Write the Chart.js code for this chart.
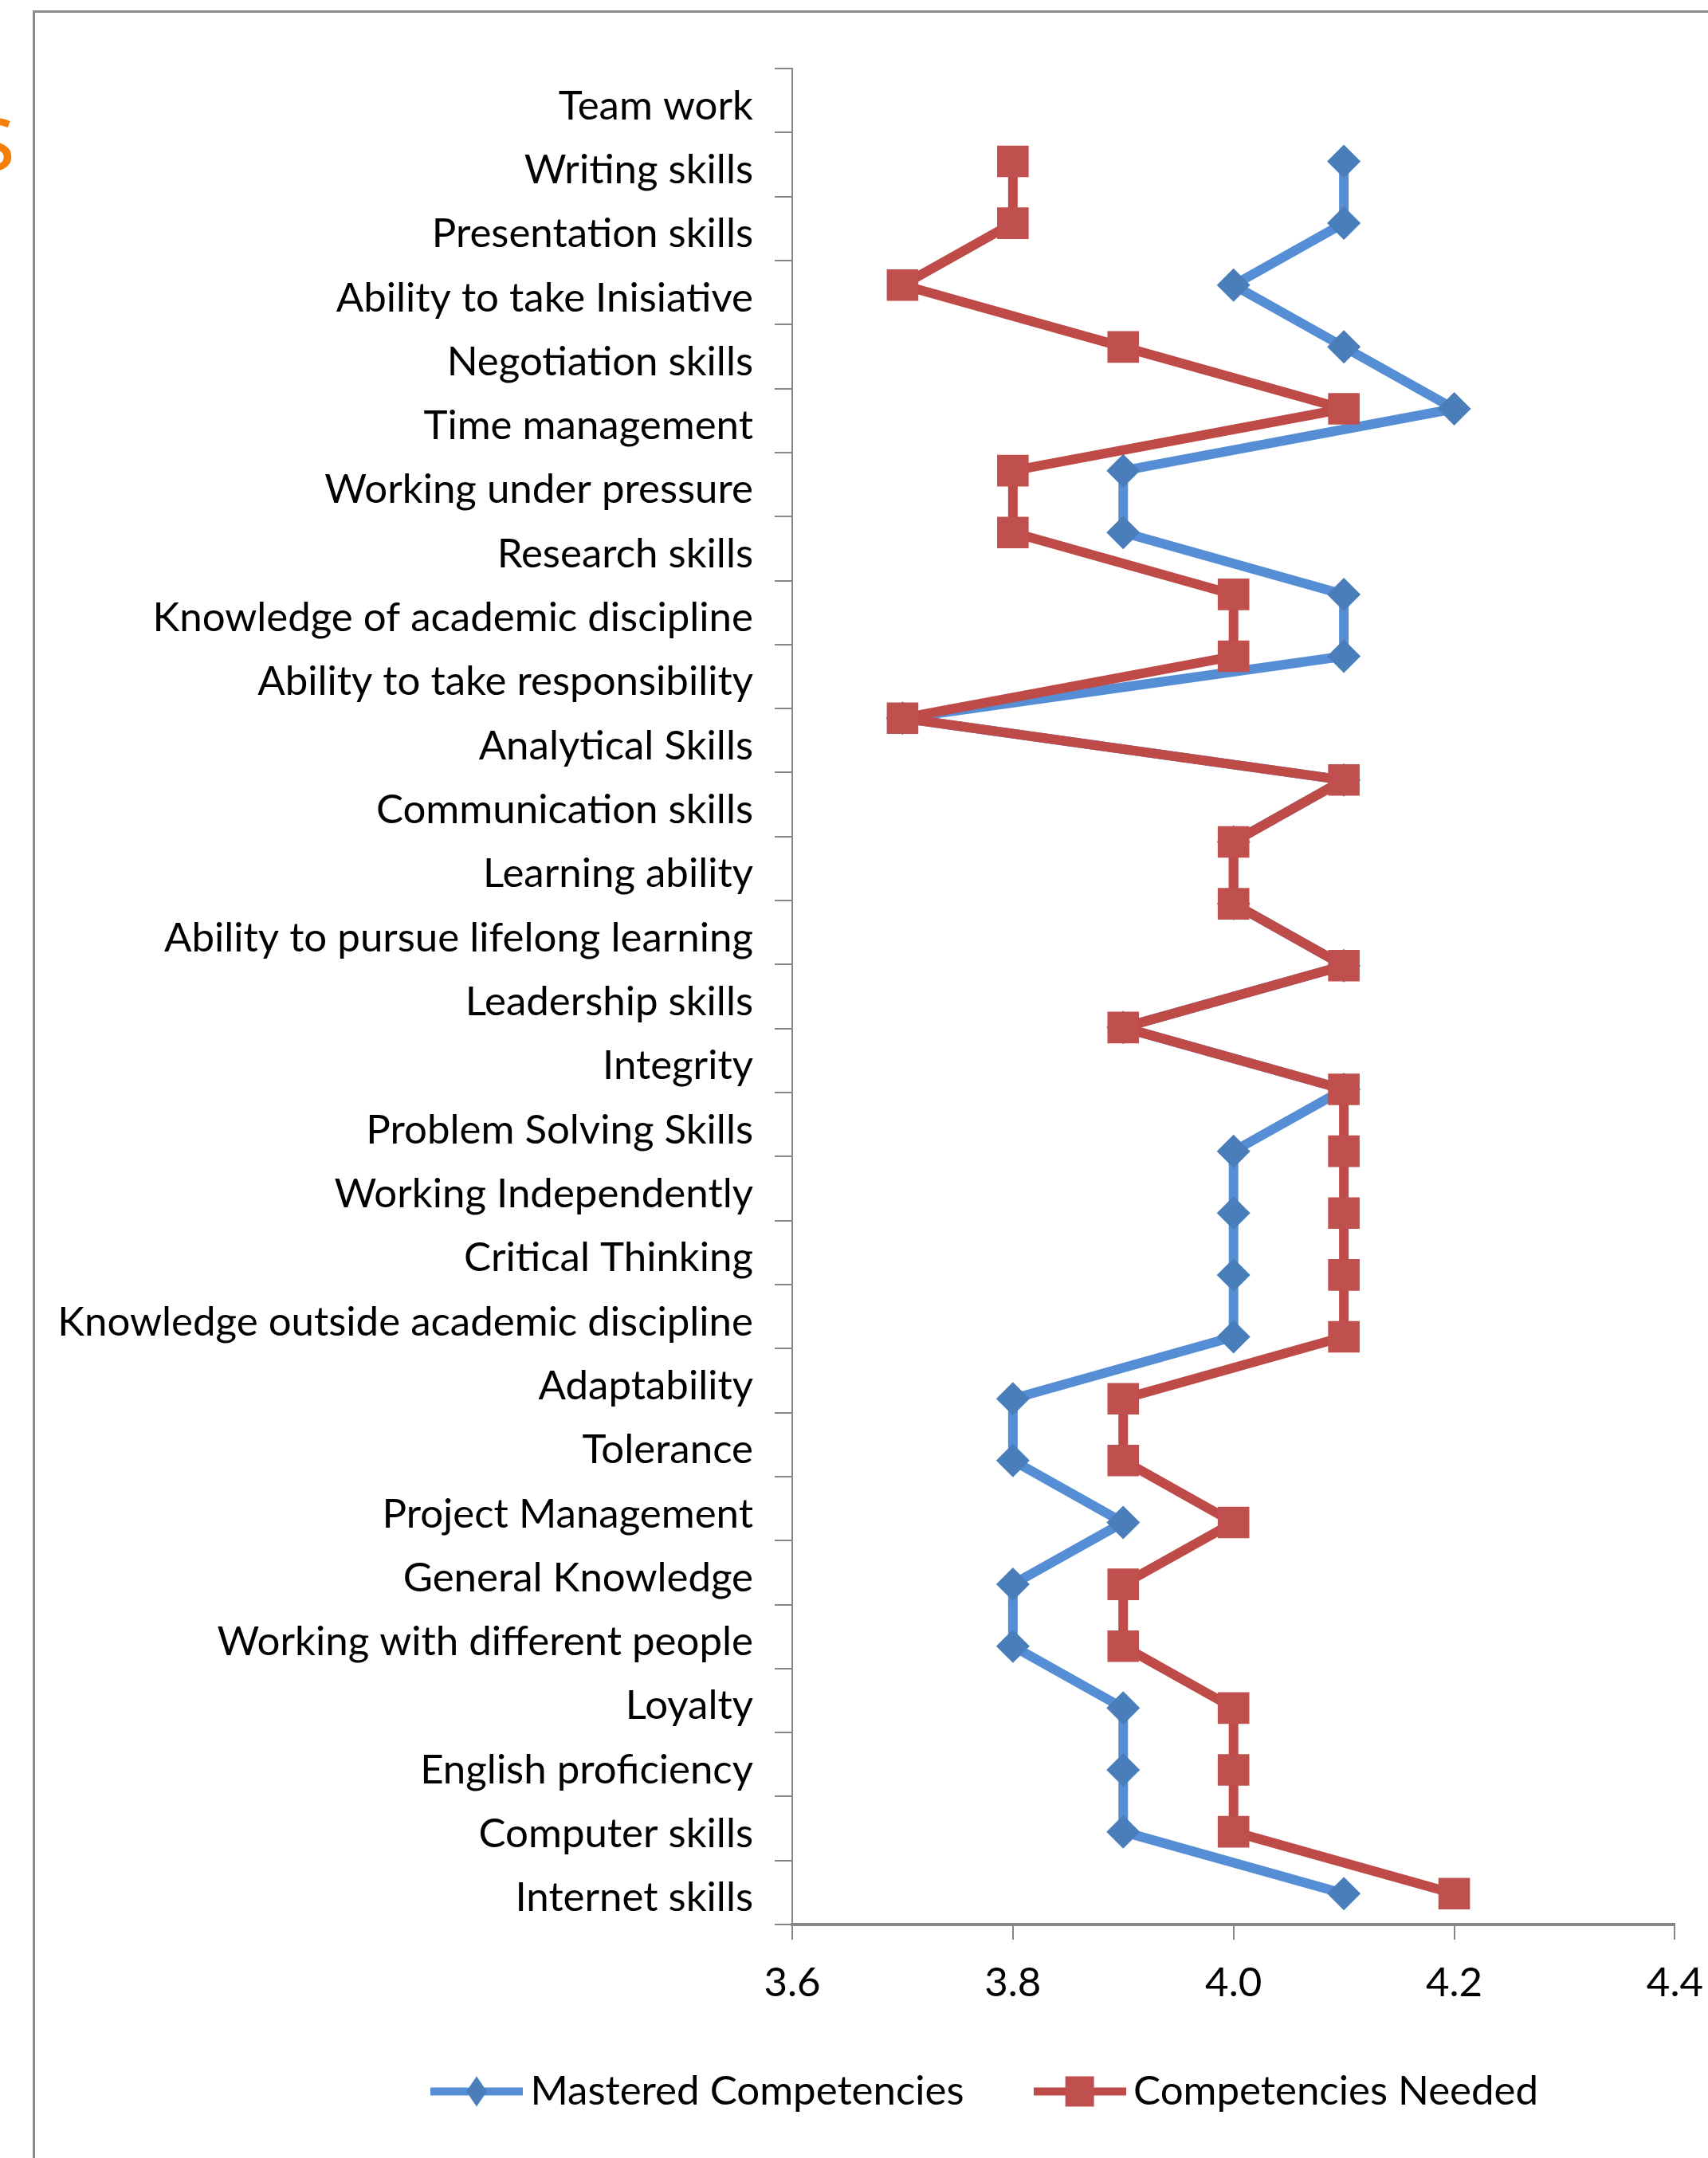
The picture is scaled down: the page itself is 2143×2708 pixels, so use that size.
<!DOCTYPE html>
<html>
<head>
<meta charset="utf-8">
<script src="https://cdn.jsdelivr.net/npm/chart.js@4.4.1/dist/chart.umd.min.js"></script>
<style>
  body { margin: 0; background: #fff; }
  #wrap { position: relative; width: 2143px; height: 2708px; overflow: hidden; }
  #frame { position: absolute; left: 41px; top: 13px; width: 3000px; height: 3000px;
           border-left: 3px solid #8c8c8c; border-top: 3px solid #8c8c8c; }
  #cut { position: absolute; left: -38px; top: 107px; font: 121px/1 "Open Sans"; color: #f47f06; }
  canvas { position: absolute; left: 0; top: 0; }
</style>
</head>
<body>
<div id="wrap">
  <div id="frame"></div>
  <div id="cut">s</div>
  <canvas id="skillsChart" width="2143" height="2708"></canvas>
</div>
<script>
const skills = [
  "Team work", "Writing skills", "Presentation skills", "Ability to take Inisiative",
  "Negotiation skills", "Time management", "Working under pressure", "Research skills",
  "Knowledge of academic discipline", "Ability to take responsibility", "Analytical Skills",
  "Communication skills", "Learning ability", "Ability to pursue lifelong learning",
  "Leadership skills", "Integrity", "Problem Solving Skills", "Working Independently",
  "Critical Thinking", "Knowledge outside academic discipline", "Adaptability", "Tolerance",
  "Project Management", "General Knowledge", "Working with different people", "Loyalty",
  "English proficiency", "Computer skills", "Internet skills"
];

const masteredScores = [4.1, 4.1, 4.0, 4.1, 4.2, 3.9, 3.9, 4.1, 4.1, 3.7, 4.1, 4.0, 4.0, 4.1, 3.9,
  4.1, 4.0, 4.0, 4.0, 4.0, 3.8, 3.8, 3.9, 3.8, 3.8, 3.9, 3.9, 3.9, 4.1];
const neededScores = [3.8, 3.8, 3.7, 3.9, 4.1, 3.8, 3.8, 4.0, 4.0, 3.7, 4.1, 4.0, 4.0, 4.1, 3.9,
  4.1, 4.1, 4.1, 4.1, 4.1, 3.9, 3.9, 4.0, 3.9, 3.9, 4.0, 4.0, 4.0, 4.2];

const xTicks = [3.6, 3.8, 4.0, 4.2, 4.4];
const seriesNames = ["Mastered Competencies", "Competencies Needed"];

const BLUE_LINE = '#558ED5', BLUE_MARK = '#4A7EBB';
const RED_LINE = '#BE4B48', RED_MARK = '#C0504D';
const labelFont = { family: 'Lato', size: 51 };

// little line + marker picture for the legend
function legendIcon(lineColor, markColor, shape) {
  const c = document.createElement('canvas');
  c.width = 116;
  c.height = 40;
  const g = c.getContext('2d');
  g.strokeStyle = lineColor;
  g.lineWidth = 10;
  g.beginPath();
  g.moveTo(0, 20);
  g.lineTo(116, 20);
  g.stroke();
  g.fillStyle = markColor;
  if (shape === 'diamond') {
    g.beginPath();
    g.moveTo(58, 1);
    g.lineTo(71, 20);
    g.lineTo(58, 39);
    g.lineTo(45, 20);
    g.closePath();
    g.fill();
  } else {
    g.fillRect(40, 1, 36, 38);
  }
  return c;
}

const icons = [legendIcon(BLUE_LINE, BLUE_MARK, 'diamond'), legendIcon(RED_LINE, RED_MARK, 'square')];

// the legend sits off-centre below the plot in the original, put it there
const legendPlacer = {
  id: 'legendPlacer',
  afterLayout(chart) {
    const lg = chart.legend;
    const w = lg.right - lg.left;
    lg.left = 453;
    lg.right = lg.left + w;
    lg.top = 2496;
  }
};

const ctx = document.getElementById('skillsChart').getContext('2d');

new Chart(ctx, {
  type: 'line',
  data: {
    labels: skills,
    datasets: [
      {
        label: seriesNames[0],
        data: masteredScores.map((v, i) => ({ x: v, y: i })),
        xAxisID: 'x',
        yAxisID: 'yData',
        borderColor: BLUE_LINE,
        borderWidth: 12,
        borderJoinStyle: 'round',
        pointStyle: 'rectRot',
        pointRadius: 21,
        pointBackgroundColor: BLUE_MARK,
        pointBorderColor: BLUE_MARK,
        pointBorderWidth: 0,
        tension: 0,
        order: 1
      },
      {
        label: seriesNames[1],
        data: neededScores.map((v, i) => ({ x: v, y: i })),
        xAxisID: 'x',
        yAxisID: 'yData',
        borderColor: RED_LINE,
        borderWidth: 12,
        borderJoinStyle: 'round',
        pointStyle: 'rect',
        pointRadius: 28,
        pointBackgroundColor: RED_MARK,
        pointBorderColor: RED_MARK,
        pointBorderWidth: 0,
        tension: 0,
        order: 0
      }
    ]
  },
  plugins: [legendPlacer],
  options: {
    responsive: false,
    devicePixelRatio: 1,
    animation: false,
    layout: { padding: { left: 50, right: 0, top: 86, bottom: 1 } },
    plugins: {
      tooltip: { enabled: false },
      legend: {
        position: 'bottom',
        align: 'start',
        labels: {
          usePointStyle: true,
          pointStyleWidth: 84,
          padding: 103,
          color: '#000',
          font: labelFont,
          sort: (a, b) => a.datasetIndex - b.datasetIndex,
          generateLabels: chart => Chart.defaults.plugins.legend.labels.generateLabels(chart)
            .map(item => ({ ...item, pointStyle: icons[item.datasetIndex] }))
        }
      }
    },
    scales: {
      x: {
        type: 'linear',
        position: 'bottom',
        min: 3.6,
        max: 4.4,
        afterBuildTicks: s => { s.ticks = xTicks.map(v => ({ value: v })); },
        grid: { drawOnChartArea: false, tickLength: 19, color: '#868686', lineWidth: 2 },
        border: { display: true, color: '#868686', width: 4 },
        ticks: { padding: 6, color: '#000', font: { family: 'Lato', size: 51, lineHeight: 1.9 },
                 callback: v => v.toFixed(1) }
      },
      y: {
        type: 'category',
        position: 'left',
        offset: true,
        min: skills[0],
        max: skills[skills.length - 1],
        afterFit: s => { s.width = 944; },
        grid: { offset: true, drawOnChartArea: false, tickLength: 22, color: '#868686', lineWidth: 2 },
        border: { display: true, color: '#868686', width: 2 },
        ticks: { autoSkip: false, padding: 27, labelOffset: 7, color: '#000', font: labelFont }
      },
      yData: {
        type: 'linear',
        display: false,
        reverse: true,
        min: -1.5,
        max: 28.5
      }
    }
  }
});
</script>
</body>
</html>
